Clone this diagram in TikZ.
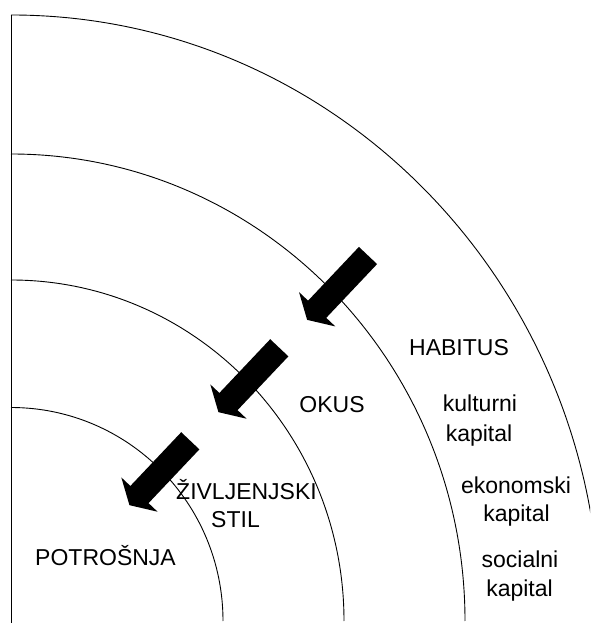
\documentclass[tikz,border=0pt]{standalone}
\usepackage{fontspec}
\setmainfont{Liberation Sans}
\begin{document}
\begin{tikzpicture}[x=1pt,y=1pt,
  ring/.style={line width=0.9pt},
  lbl/.style={font=\fontsize{23}{28}\selectfont, inner sep=0pt, anchor=base},
  blockarrow/.style={fill=black, draw=none}]
\useasboundingbox (0,0) rectangle (590,623);
\clip (0,0) rectangle (590,623);
\coordinate (top) at (11,608);
\coordinate (bot) at (11,0);
\draw[ring] (top) -- (bot);
\foreach \a/\b in {212/213.5, 333/341, 454/467, 589/606}
  \draw[ring] (11,2+\b) arc[start angle=90,end angle=0,x radius=\a,y radius=\b];
\foreach \x/\y in {368/367.5, 279.3/275.2, 190.3/182.2}
  \fill[blockarrow, shift={(\x,\y)}, rotate=226.6]
    (0,-12.5) -- (74,-12.5) -- (74,-25) -- (88.6,0) -- (74,25) -- (74,12.5) -- (0,12.5) -- cycle;
\node[lbl] (habitus) at (459,267) {HABITUS};
\node[lbl] (kult) at (480,211) {kulturni};
\node[lbl] (kultk) at (479,181) {kapital};
\node[lbl] (ekon) at (516,129) {ekonomski};
\node[lbl] (ekonk) at (516.5,101) {kapital};
\node[lbl] (soc) at (520,55) {socialni};
\node[lbl] (sock) at (519.5,26) {kapital};
\node[lbl] (okus) at (332,210) {OKUS};
\node[lbl] (ziv) at (246.5,123) {ŽIVLJENJSKI};
\node[lbl] (stil) at (235.5,95) {STIL};
\node[lbl] (potr) at (105.5,57) {POTROŠNJA};
\end{tikzpicture}
\end{document}
